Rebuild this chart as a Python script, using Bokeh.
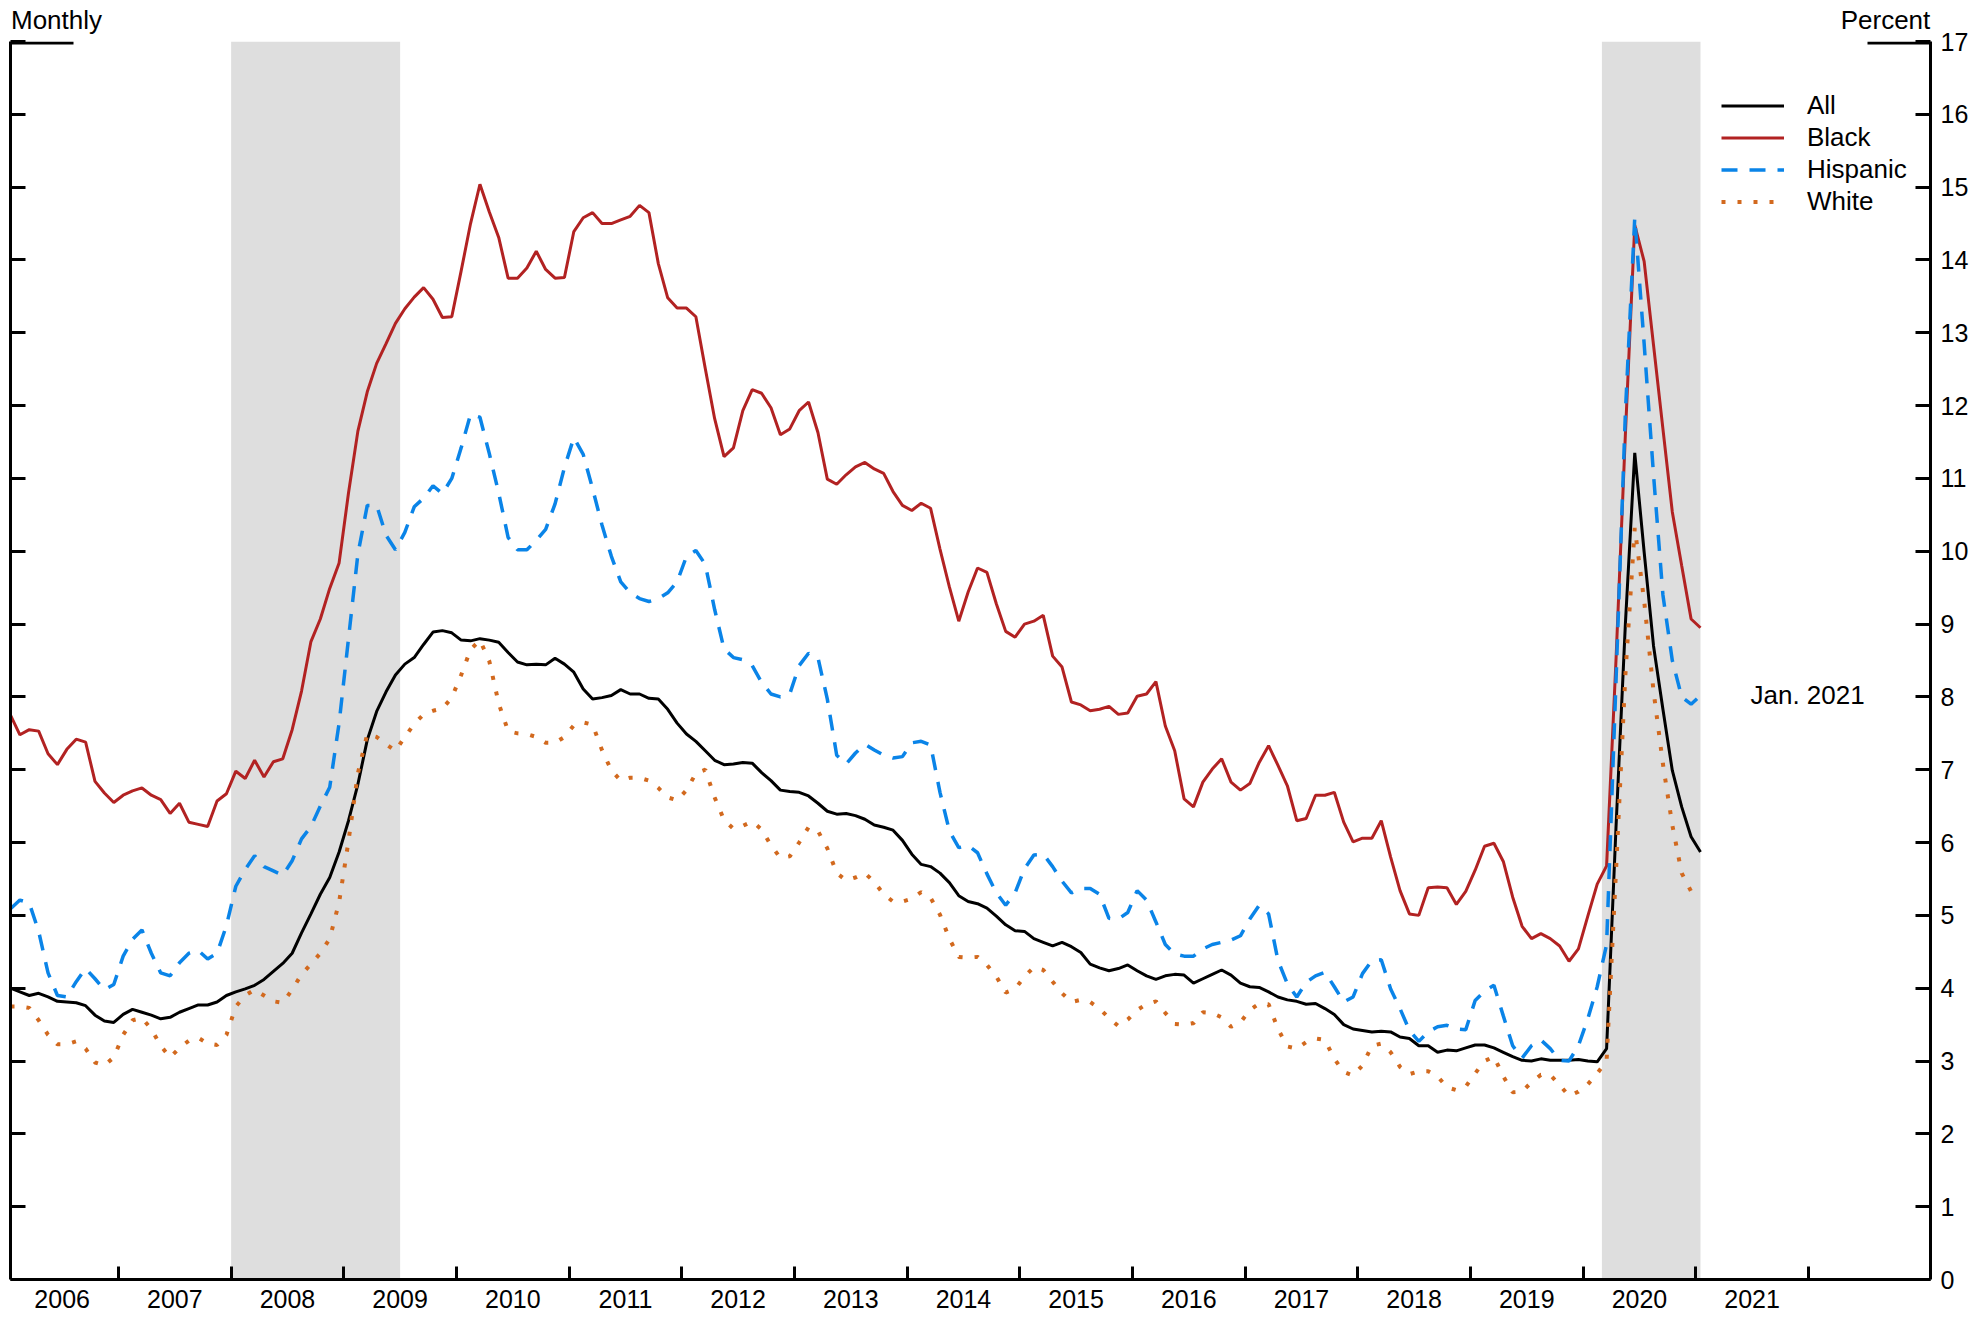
import numpy as np
from bokeh.plotting import figure
from bokeh.models import (Range1d, LinearAxis, FixedTicker, CustomJSTickFormatter,
                          BoxAnnotation, Legend, LegendItem, Label)
from bokeh.embed import file_html
from bokeh.resources import INLINE

# ---------------- data (monthly, Jan 2006 - Jan 2021, percent) ----------------
first_year = 2006
n_months = 181

all_rate = [
    4.00, 3.95, 3.90, 3.93, 3.88, 3.82, 3.81, 3.80, 3.76, 3.63, 3.55, 3.53,
    3.64, 3.71, 3.67, 3.63, 3.58, 3.60, 3.67, 3.72, 3.77, 3.77, 3.81, 3.90,
    3.95, 3.99, 4.04, 4.12, 4.23, 4.34, 4.48, 4.76, 5.02, 5.29, 5.52, 5.87,
    6.30, 6.80, 7.41, 7.80, 8.07, 8.30, 8.45, 8.54, 8.72, 8.89, 8.91, 8.88,
    8.78, 8.77, 8.80, 8.78, 8.75, 8.61, 8.48, 8.44, 8.45, 8.44, 8.53, 8.45,
    8.34, 8.11, 7.97, 7.99, 8.02, 8.10, 8.04, 8.04, 7.98, 7.97, 7.83, 7.64,
    7.49, 7.39, 7.26, 7.13, 7.07, 7.08, 7.10, 7.09, 6.96, 6.85, 6.72, 6.70,
    6.69, 6.64, 6.54, 6.43, 6.39, 6.40, 6.37, 6.32, 6.24, 6.21, 6.17, 6.03,
    5.84, 5.70, 5.67, 5.58, 5.45, 5.27, 5.19, 5.16, 5.10, 4.99, 4.87, 4.79,
    4.78, 4.68, 4.63, 4.58, 4.63, 4.57, 4.49, 4.33, 4.28, 4.24, 4.27, 4.32,
    4.24, 4.17, 4.12, 4.17, 4.19, 4.18, 4.07, 4.13, 4.19, 4.25, 4.18, 4.07,
    4.02, 4.01, 3.95, 3.88, 3.84, 3.82, 3.78, 3.79, 3.72, 3.64, 3.50, 3.44,
    3.42, 3.40, 3.41, 3.40, 3.33, 3.31, 3.21, 3.21, 3.12, 3.15, 3.14, 3.18,
    3.22, 3.22, 3.18, 3.12, 3.06, 3.01, 3.00, 3.03, 3.01, 3.01, 3.01, 3.02,
    3.00, 2.99, 3.17, 6.20, 9.00, 11.35, 9.99, 8.70, 7.83, 6.99, 6.49, 6.08,
    5.87,
]

black_rate = [
    7.75, 7.48, 7.55, 7.53, 7.22, 7.07, 7.28, 7.42, 7.38, 6.84, 6.68, 6.55,
    6.65, 6.71, 6.75, 6.65, 6.59, 6.40, 6.54, 6.28, 6.25, 6.22, 6.57, 6.67,
    6.98, 6.88, 7.13, 6.90, 7.11, 7.15, 7.55, 8.08, 8.76, 9.07, 9.49, 9.84,
    10.80, 11.65, 12.19, 12.58, 12.85, 13.13, 13.33, 13.49, 13.62, 13.46, 13.21, 13.22,
    13.85, 14.50, 15.04, 14.66, 14.31, 13.75, 13.75, 13.89, 14.12, 13.87, 13.75, 13.76,
    14.39, 14.58, 14.65, 14.50, 14.50, 14.55, 14.60, 14.75, 14.65, 13.95, 13.48, 13.34,
    13.34, 13.22, 12.51, 11.82, 11.30, 11.42, 11.93, 12.22, 12.17, 11.97, 11.60, 11.68,
    11.93, 12.05, 11.63, 10.99, 10.92, 11.05, 11.16, 11.22, 11.13, 11.07, 10.82, 10.63,
    10.56, 10.66, 10.59, 10.03, 9.51, 9.04, 9.44, 9.77, 9.71, 9.28, 8.90, 8.82,
    9.00, 9.04, 9.12, 8.56, 8.41, 7.93, 7.89, 7.81, 7.83, 7.87, 7.76, 7.78,
    8.01, 8.04, 8.21, 7.60, 7.26, 6.60, 6.49, 6.83, 7.01, 7.15, 6.83, 6.72,
    6.81, 7.10, 7.33, 7.06, 6.78, 6.30, 6.33, 6.65, 6.65, 6.69, 6.28, 6.01,
    6.06, 6.06, 6.30, 5.80, 5.34, 5.02, 5.00, 5.38, 5.39, 5.38, 5.15, 5.33,
    5.62, 5.95, 5.99, 5.74, 5.25, 4.85, 4.68, 4.75, 4.68, 4.58, 4.37, 4.54,
    4.99, 5.43, 5.68, 8.50, 11.60, 14.48, 13.98, 12.83, 11.68, 10.54, 9.80, 9.07,
    8.95,
]

hispanic_rate = [
    5.09, 5.21, 5.17, 4.78, 4.21, 3.90, 3.88, 4.09, 4.27, 4.13, 3.98, 4.05,
    4.44, 4.67, 4.80, 4.48, 4.21, 4.17, 4.35, 4.48, 4.52, 4.40, 4.48, 4.86,
    5.40, 5.63, 5.82, 5.67, 5.61, 5.55, 5.75, 6.05, 6.22, 6.50, 6.76, 7.64,
    8.80, 9.96, 10.63, 10.63, 10.22, 10.02, 10.26, 10.61, 10.73, 10.90, 10.79, 11.00,
    11.42, 11.88, 11.84, 11.34, 10.80, 10.19, 10.02, 10.02, 10.15, 10.30, 10.65, 11.15,
    11.56, 11.33, 10.86, 10.36, 9.93, 9.58, 9.43, 9.35, 9.31, 9.35, 9.43, 9.58,
    9.93, 10.01, 9.82, 9.20, 8.66, 8.54, 8.51, 8.43, 8.20, 8.04, 8.00, 8.04,
    8.43, 8.60, 8.54, 7.97, 7.20, 7.08, 7.23, 7.35, 7.27, 7.20, 7.16, 7.18,
    7.37, 7.39, 7.34, 6.69, 6.16, 5.93, 5.96, 5.86, 5.57, 5.31, 5.14, 5.31,
    5.64, 5.83, 5.84, 5.67, 5.47, 5.31, 5.37, 5.37, 5.29, 4.96, 4.95, 5.04,
    5.34, 5.21, 4.91, 4.60, 4.47, 4.44, 4.44, 4.54, 4.60, 4.63, 4.66, 4.72,
    4.95, 5.14, 5.02, 4.38, 4.06, 3.88, 4.08, 4.17, 4.22, 4.02, 3.81, 3.88,
    4.20, 4.38, 4.39, 3.99, 3.72, 3.42, 3.27, 3.40, 3.47, 3.49, 3.44, 3.43,
    3.83, 3.96, 4.04, 3.62, 3.21, 3.04, 3.21, 3.29, 3.17, 3.01, 3.00, 3.21,
    3.58, 4.02, 4.60, 8.20, 11.90, 14.58, 12.85, 11.05, 9.40, 8.50, 8.00, 7.90,
    8.02,
]

white_rate = [
    3.75, 3.75, 3.73, 3.56, 3.36, 3.23, 3.23, 3.27, 3.17, 2.98, 2.94, 3.05,
    3.36, 3.56, 3.59, 3.44, 3.21, 3.05, 3.18, 3.28, 3.32, 3.24, 3.22, 3.36,
    3.75, 3.90, 3.98, 3.90, 3.82, 3.80, 3.98, 4.19, 4.33, 4.48, 4.68, 5.18,
    6.02, 6.95, 7.49, 7.45, 7.35, 7.26, 7.45, 7.63, 7.76, 7.81, 7.84, 7.99,
    8.30, 8.65, 8.78, 8.49, 7.91, 7.53, 7.50, 7.49, 7.45, 7.37, 7.37, 7.45,
    7.61, 7.65, 7.62, 7.27, 6.99, 6.85, 6.89, 6.89, 6.85, 6.75, 6.62, 6.58,
    6.72, 6.95, 7.00, 6.62, 6.31, 6.19, 6.23, 6.29, 6.18, 5.96, 5.79, 5.81,
    6.00, 6.21, 6.16, 5.92, 5.58, 5.48, 5.52, 5.58, 5.46, 5.29, 5.19, 5.19,
    5.23, 5.32, 5.24, 5.01, 4.68, 4.43, 4.42, 4.43, 4.32, 4.16, 3.94, 3.99,
    4.16, 4.29, 4.25, 4.09, 3.93, 3.81, 3.84, 3.81, 3.72, 3.59, 3.48, 3.57,
    3.70, 3.78, 3.82, 3.66, 3.51, 3.50, 3.52, 3.67, 3.66, 3.60, 3.47, 3.53,
    3.70, 3.79, 3.78, 3.44, 3.20, 3.17, 3.26, 3.31, 3.29, 3.03, 2.85, 2.80,
    2.94, 3.21, 3.24, 3.12, 2.92, 2.82, 2.86, 2.86, 2.79, 2.64, 2.60, 2.65,
    2.83, 3.00, 3.06, 2.79, 2.57, 2.58, 2.71, 2.81, 2.81, 2.67, 2.52, 2.58,
    2.68, 2.83, 3.00, 5.60, 8.30, 10.32, 9.32, 8.08, 7.08, 6.24, 5.58, 5.33,
    5.29,
]

year_labels = list(range(2006, 2022))          # labelled years
year_boundaries = list(range(2007, 2023))      # tick marks between years
y_ticks = list(range(0, 18))
recession_start = [2008.0, 2020 + 2 / 12]      # end of Dec 2007, end of Feb 2020
recession_end = [2009.5, 2021 + 0.5 / 12]      # end of Jun 2009, Jan 2021

series_names = ["All", "Black", "Hispanic", "White"]
series_colors = ["#000000", "#B22222", "#0A84E8", "#D2691E"]

# month positions (mid-month, in fractional years)
dates = first_year + (np.arange(n_months) + 0.5) / 12.0

# ---------------- figure ----------------
FONT = "Liberation Sans"
FS = "25px"
FS2 = "26px"
x_start = float(dates[0])
x_end = 2023 + 1 / 12
FW, FH = 1920, 1238
px = (x_end - x_start) / FW    # data units per screen pixel (x)

p = figure(frame_width=FW, frame_height=FH,
           x_range=Range1d(x_start, x_end), y_range=Range1d(0, 17),
           output_backend="svg", toolbar_location=None,
           min_border_left=10, min_border_top=41, min_border_right=4, min_border_bottom=37)
p.xgrid.visible = False
p.ygrid.visible = False
p.outline_line_color = None
p.background_fill_color = "white"

for s, e in zip(recession_start, recession_end):
    p.add_layout(BoxAnnotation(left=s, right=e, fill_color="#DEDEDE", fill_alpha=1.0,
                               line_color=None, level="underlay"))

r_all = p.line(dates, all_rate, line_color=series_colors[0], line_width=3)
r_black = p.line(dates, black_rate, line_color=series_colors[1], line_width=3)
r_hisp = p.line(dates, hispanic_rate, line_color=series_colors[2], line_width=3.5,
                line_dash="16 12")
r_white = p.line(dates, white_rate, line_color=series_colors[3], line_width=4,
                 line_dash="4 12")

# left axis: ticks only (no labels)
yl = p.yaxis[0]
yl.ticker = FixedTicker(ticks=y_ticks)
yl.formatter = CustomJSTickFormatter(code="return '';")
yl.major_tick_in = 15
yl.major_tick_out = 0
yl.minor_tick_line_color = None
yl.major_label_standoff = 0
yl.axis_line_width = 3
yl.major_tick_line_width = 3

# right axis with labels
yr = LinearAxis(ticker=FixedTicker(ticks=y_ticks))
yr.major_tick_in = 15
yr.major_tick_out = 0
yr.minor_tick_line_color = None
yr.axis_line_width = 3
yr.major_tick_line_width = 3
yr.major_label_text_font = FONT
yr.major_label_text_font_size = FS
yr.major_label_text_color = "black"
yr.major_label_standoff = 10
p.add_layout(yr, "right")

# bottom axis: labels at mid-year, ticks at year boundaries
xa = p.xaxis[0]
xa.ticker = FixedTicker(ticks=[y + 0.5 for y in year_labels], minor_ticks=year_boundaries)
xa.formatter = CustomJSTickFormatter(code="return Math.floor(tick).toString();")
xa.major_tick_in = 0
xa.major_tick_out = 0
xa.minor_tick_in = 13
xa.minor_tick_out = 0
xa.minor_tick_line_width = 3
xa.minor_tick_line_color = "black"
xa.axis_line_width = 3
xa.major_label_text_font = FONT
xa.major_label_text_font_size = FS
xa.major_label_text_color = "black"
xa.major_label_standoff = 10

# unit notes above the frame ("Monthly" at left, "Percent" at right), drawn as axis labels
note_left = x_start + 46 * px
note_right = x_end - 45 * px
top = LinearAxis(ticker=FixedTicker(ticks=[note_left, note_right]),
                 formatter=CustomJSTickFormatter(
                     code="return index == 0 ? 'Monthly' : 'Percent';"))
top.axis_line_color = None
top.major_tick_line_color = None
top.minor_tick_line_color = None
top.major_tick_in = 0
top.major_tick_out = 0
top.major_label_standoff = 7
top.major_label_text_line_height = 0.8
top.major_label_text_font = FONT
top.major_label_text_font_size = FS2
top.major_label_text_color = "black"
p.add_layout(top, "above")

# short caps along the top edge at both sides
cap = 63 * px
y_cap = 17 - 1.5 * 17 / FH
p.segment(x0=[x_start, x_end - cap], y0=[y_cap, y_cap], x1=[x_start + cap, x_end],
          y1=[y_cap, y_cap], line_color="black", line_width=3)

p.add_layout(Label(x=float(dates[-1]), y=hispanic_rate[-1], text="Jan. 2021",
                   text_align="left", text_baseline="middle", x_offset=50,
                   text_font=FONT, text_font_size=FS2, text_color="black"))

legend = Legend(items=[LegendItem(label=n, renderers=[r])
                       for n, r in zip(series_names, [r_all, r_black, r_hisp, r_white])],
                location=(1711, 1062), orientation="vertical",
                glyph_width=63, glyph_height=31, label_height=31, label_standoff=23,
                spacing=1, padding=0, margin=0,
                border_line_color=None, background_fill_alpha=0,
                label_text_font=FONT, label_text_font_size=FS2, label_text_color="black")
p.add_layout(legend)

open("out.html", "w").write(file_html(p, INLINE))
